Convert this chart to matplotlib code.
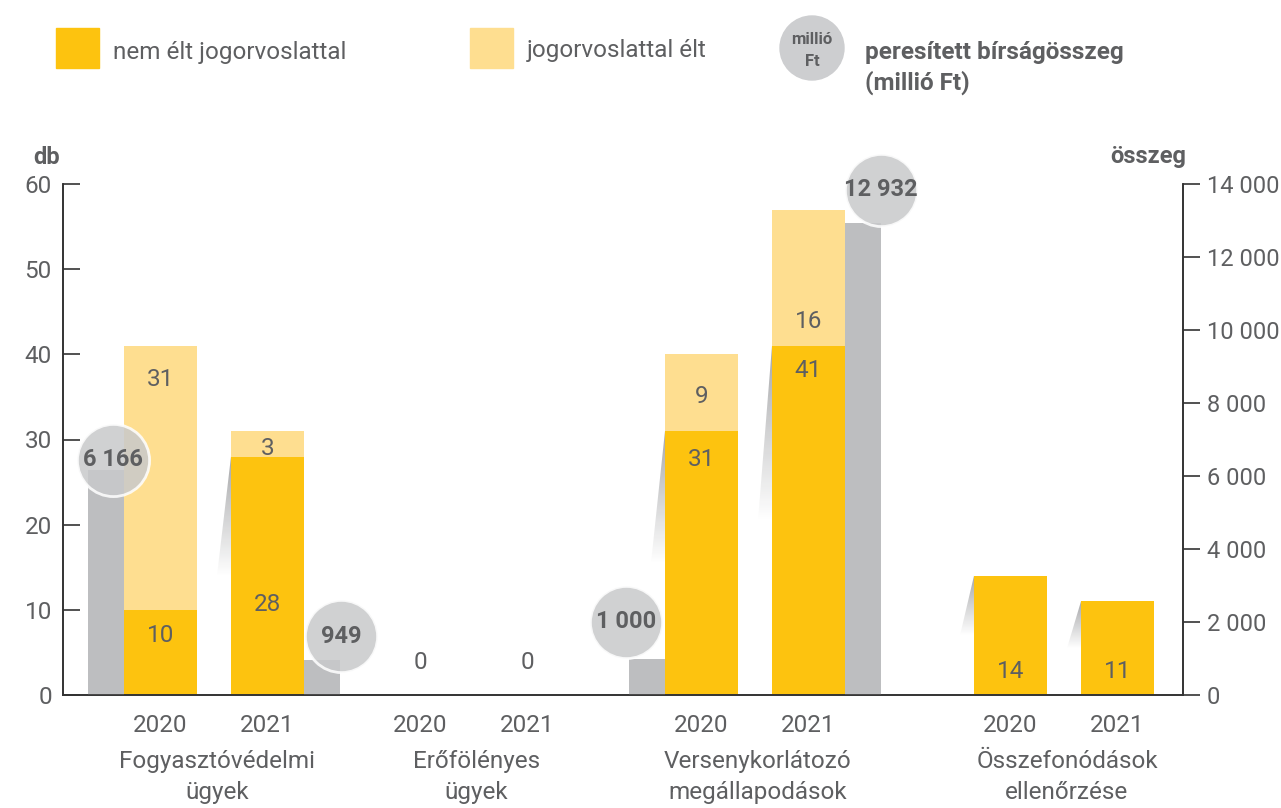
import matplotlib
matplotlib.use('Agg')
import matplotlib.pyplot as plt
import numpy as np
from matplotlib.patches import Polygon, Rectangle, Circle
from matplotlib.colors import LinearSegmentedColormap
from matplotlib.transforms import offset_copy

plt.rcParams['font.family'] = ['Roboto', 'DejaVu Sans']

# data
categories = ['Fogyasztóvédelmi\nügyek', 'Erőfölényes\nügyek',
              'Versenykorlátozó\nmegállapodások', 'Összefonódások\nellenőrzése']
years = ['2020', '2021']
nem_elt = [[10, 28], [0, 0], [31, 41], [14, 11]]
elt = [[31, 3], [0, 0], [9, 16], [0, 0]]
osszeg = [[6166, 949], [None, None], [1000, 12932], [None, None]]
left_ticks = [0, 10, 20, 30, 40, 50, 60]
right_ticks = [0, 2000, 4000, 6000, 8000, 10000, 12000, 14000]

# styling / layout
YEL = '#FDC30F'
LYEL = '#FEDE90'
GREY = '#BDBEC0'
BUB = '#C8C9CB'
TXT = '#5E5F61'
group_x = [151, 410.5, 692, 1001]
year_off = 53.5
bar_w = 73
grey_w = 36
lab_lo_y = [[7.0, 10.6], [3.8, 3.8], [27.6, 38.1], [2.8, 2.8]]
lab_hi_y = [[37.0, 28.9], [None, None], [35.1, 43.8], [None, None]]
bub_off = [[(7, 10), (19, 24)], [None, None], [(-21, 37), (18, 33)], [None, None]]

fig = plt.figure(figsize=(12.81, 8.08), dpi=100)
ax = fig.add_axes([63 / 1281, 113 / 808, 1120 / 1281, 511 / 808])
ax2 = ax.twinx()

shade = LinearSegmentedColormap.from_list('shade', ['white', '#9c9d9f'])


def wedge(a, xl, top, h, w):
    poly = Polygon([(xl, top), (xl - w, top - h), (xl, top - h)], closed=True,
                   fc='none', ec='none')
    a.add_patch(poly)
    grad = np.linspace(1, 0, 100).reshape(-1, 1)
    im = a.imshow(grad, extent=[xl - w, xl, top - h, top], cmap=shade,
                  aspect='auto', origin='upper', zorder=1, alpha=0.9)
    im.set_clip_path(poly)


for g, gx in enumerate(group_x):
    for j in range(2):
        x = gx + (j - 0.5) * 2 * year_off
        lo = nem_elt[g][j]
        hi = elt[g][j]
        if lo > 0:
            wedge(ax, x - bar_w / 2, lo, 0.5 * lo, 14)
            ax.bar(x, lo, width=bar_w, color=YEL, zorder=2)
        if hi > 0:
            ax.bar(x, hi, bottom=lo, width=bar_w, color=LYEL, zorder=2)
        ax.text(x, lab_lo_y[g][j], str(lo), ha='center', va='center',
                fontsize=17.5, color=TXT, zorder=5)
        if hi > 0:
            ax.text(x, lab_hi_y[g][j], str(hi), ha='center', va='center',
                    fontsize=17.5, color=TXT, zorder=5)
        ax.text(x, -3.6, years[j], ha='center', va='center', fontsize=17.5,
                color=TXT, clip_on=False)
        amt = osszeg[g][j]
        if amt is not None:
            side = -1 if j == 0 else 1
            gxp = x + side * (bar_w / 2 + grey_w / 2)
            ax2.bar(gxp, amt, width=grey_w, color=GREY, zorder=1)
            dx, dy = bub_off[g][j]
            tr = offset_copy(ax2.transData, fig=fig, x=dx, y=dy, units='dots')
            ax2.scatter([gxp], [amt], s=2700, color=BUB, alpha=0.85,
                        edgecolor='white', linewidth=2, transform=tr,
                        zorder=3, clip_on=False)
            lab = f'{amt:,}'.replace(',', ' ')
            ax2.text(gxp, amt, lab, transform=tr, ha='center', va='center',
                     fontsize=17, fontweight='bold', color=TXT, zorder=4,
                     clip_on=False)
    ax.text(gx + 3, -6.5, categories[g], ha='center', va='top', fontsize=17.5,
            color=TXT, linespacing=1.45, clip_on=False)

ax.set_xlim(0, 1120)
ax.set_ylim(0, 60)
ax2.set_ylim(0, 14000)
ax.set_yticks(left_ticks)
ax2.set_yticks(right_ticks)
ax2.set_yticklabels([f'{v:,}'.replace(',', ' ') for v in right_ticks])
ax.set_xticks([])
for a in (ax, ax2):
    a.spines['top'].set_visible(False)
    for s in ('left', 'right', 'bottom'):
        a.spines[s].set_color('#333333')
        a.spines[s].set_linewidth(1.2)
ax.tick_params(axis='y', direction='in', length=12, width=1.2, color='#333333',
               labelsize=17.5, labelcolor=TXT, pad=8)
ax2.tick_params(axis='y', direction='out', length=12, width=1.2, color='#333333',
                labelsize=17, labelcolor=TXT, pad=5)
ax.set_zorder(2)
ax.patch.set_visible(False)
ax2.set_zorder(3)
ax2.patch.set_visible(False)

# axis titles
fig.text(47 / 1281, 1 - 157 / 808, 'db', ha='center', va='center', fontsize=17,
         fontweight='bold', color=TXT)
fig.text(1148 / 1281, 1 - 156 / 808, 'összeg', ha='center', va='center',
         fontsize=17, fontweight='bold', color=TXT)

# legend in pixel coordinates
lg = fig.add_axes([0, 0, 1, 1], zorder=10)
lg.set_xlim(0, 1281)
lg.set_ylim(808, 0)
lg.axis('off')
lg.add_patch(Rectangle((56, 28), 43, 40, color=YEL))
lg.text(113, 53, 'nem élt jogorvoslattal', va='center', fontsize=17.5, color=TXT)
lg.add_patch(Rectangle((470, 28), 43, 40, color=LYEL))
lg.text(527, 50, 'jogorvoslattal élt', va='center', fontsize=17.5, color=TXT)
lg.add_patch(Circle((812, 48), 32, color='#CDCED0'))
lg.text(812, 40, 'millió', ha='center', va='center', fontsize=12,
        fontweight='bold', color=TXT)
lg.text(812, 62, 'Ft', ha='center', va='center', fontsize=12,
        fontweight='bold', color=TXT)
lg.text(865, 53, 'peresített bírságösszeg', va='center', fontsize=17.5,
        fontweight='bold', color=TXT)
lg.text(865, 83, '(millió Ft)', va='center', fontsize=17.5,
        fontweight='bold', color=TXT)

fig.savefig('out.png', dpi=100)
